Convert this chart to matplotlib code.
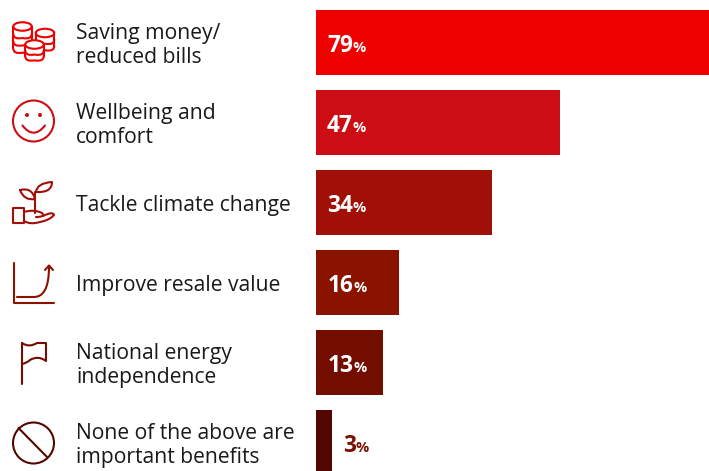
import matplotlib
matplotlib.use("Agg")
import matplotlib.pyplot as plt
from matplotlib.patches import Circle, Ellipse, PathPatch, Rectangle
from matplotlib.path import Path

labels = ["Saving money/\nreduced bills", "Wellbeing and\ncomfort", "Tackle climate change",
          "Improve resale value", "National energy\nindependence", "None of the above are\nimportant benefits"]
values = [79, 47, 34, 16, 13, 3]
colors = ["#ec0000", "#cc0d13", "#a01006", "#8a1300", "#730d00", "#540700"]

plt.rcParams["font.family"] = "Open Sans"

fig = plt.figure(figsize=(7.09, 4.71), dpi=100)

# bars, cut off by the right and bottom edge like the original
ax = fig.add_axes([316 / 709, 0, 393 / 709, 1])
ax.barh(range(len(values)), values, height=65 / 80, color=colors)
ax.set_xlim(0, 393 / 5.19)
ax.set_ylim((471 - 42.5) / 80, -42.5 / 80)
ax.axis("off")

# overlay in pixels for text and icons
ov = fig.add_axes([0, 0, 1, 1])
ov.set_xlim(0, 709)
ov.set_ylim(471, 0)
ov.axis("off")
ov.patch.set_alpha(0)


def curve(pts, c, lw=1.5, closed=False, z=3):
    codes = [Path.MOVETO]
    verts = [pts[0]]
    for p in pts[1:]:
        if len(p) == 4:
            verts += [(p[0], p[1]), (p[2], p[3])]
            codes += [Path.CURVE3, Path.CURVE3]
        else:
            verts.append(p)
            codes.append(Path.LINETO)
    if closed:
        verts.append(pts[0])
        codes.append(Path.CLOSEPOLY)
    ov.add_patch(PathPatch(Path(verts, codes), fc="none", ec=c, lw=lw, capstyle="round", joinstyle="round", zorder=z))


def coin_stack(cx, top, bands, step, c, z):
    w = 18.5
    h = 8.5
    left, right = cx - w / 2, cx + w / 2
    bottom = top + bands * step
    ov.add_patch(Rectangle((left, top), w, bottom - top + h / 2, fc="white", ec="none", zorder=z))
    ov.add_patch(Ellipse((cx, top), w, h, fc="white", ec=c, lw=1.5, zorder=z + 0.1))
    for n in range(1, bands + 1):
        y = top + n * step
        curve([(left, y), (left, y + h / 2 * 1.4, cx, y + h / 2), (right, y + h / 2 * 1.4, right, y)], c, z=z + 0.1)
    curve([(left, top), (left, bottom)], c, z=z + 0.1)
    curve([(right, top), (right, bottom)], c, z=z + 0.1)


c = colors[0]
coin_stack(22.5, 26.5, 3, 7.3, c, 2)
coin_stack(45, 33, 2, 6.5, c, 3)
coin_stack(34.5, 44.5, 2, 5.8, c, 4)

c = colors[1]
ov.add_patch(Circle((33.5, 121), 20.5, fc="none", ec=c, lw=1.5))
ov.add_patch(Circle((27, 115), 2, fc=c, ec="none"))
ov.add_patch(Circle((40, 115), 2, fc=c, ec="none"))
curve([(22.5, 125.5), (33.5, 140, 45, 125.5)], c)

c = colors[2]
curve([(35, 213), (35, 192)], c)
curve([(20, 190), (32, 187, 35, 199), (24, 201, 20, 190)], c)
curve([(36, 192), (37, 183, 52, 182), (52, 193, 36, 192)], c)
curve([(13, 208), (24, 208), (24, 223), (13, 223)], c, closed=True)
curve([(24, 212), (34, 209, 42, 213), (46, 217, 36, 217)], c)
curve([(43, 216), (53, 211, 54, 215), (50, 220, 40, 222), (30, 225, 24, 221)], c)

c = colors[3]
curve([(13.5, 263), (13.5, 303), (54, 303)], c)
curve([(17, 297), (33, 297), (49, 298, 49, 267)], c)
curve([(45, 270), (49, 265.5), (53, 270)], c)

c = colors[4]
curve([(22, 343), (22, 384)], c)
curve([(22, 343), (29, 348, 37, 343), (46, 343), (46, 361), (38, 355, 30, 360), (27, 363, 22, 364)], c)

c = colors[5]
ov.add_patch(Circle((33.5, 443), 20.5, fc="none", ec=c, lw=1.5))
curve([(18.5, 428), (47, 457)], c)

# row labels and value labels
renderer = fig.canvas.get_renderer()
for i, (lab, v) in enumerate(zip(labels, values)):
    y = 44 + 80 * i
    ov.text(76, y + 1.5, lab, fontsize=15.2, color="#1a1a1a", va="center", linespacing=1.24)
    inside = v > 5
    x = 327 if v >= 20 else 328
    col = "white"
    if not inside:
        x = 343
        col = "#7a1000"
    t = ov.text(x, y + 8, str(v), fontsize=16.3, fontweight="bold", color=col, va="baseline")
    w = t.get_window_extent(renderer).width
    ov.text(x + w, y + 8, "%", fontsize=10.5, fontweight="bold", color=col, va="baseline")

fig.savefig("out.png", dpi=100)
